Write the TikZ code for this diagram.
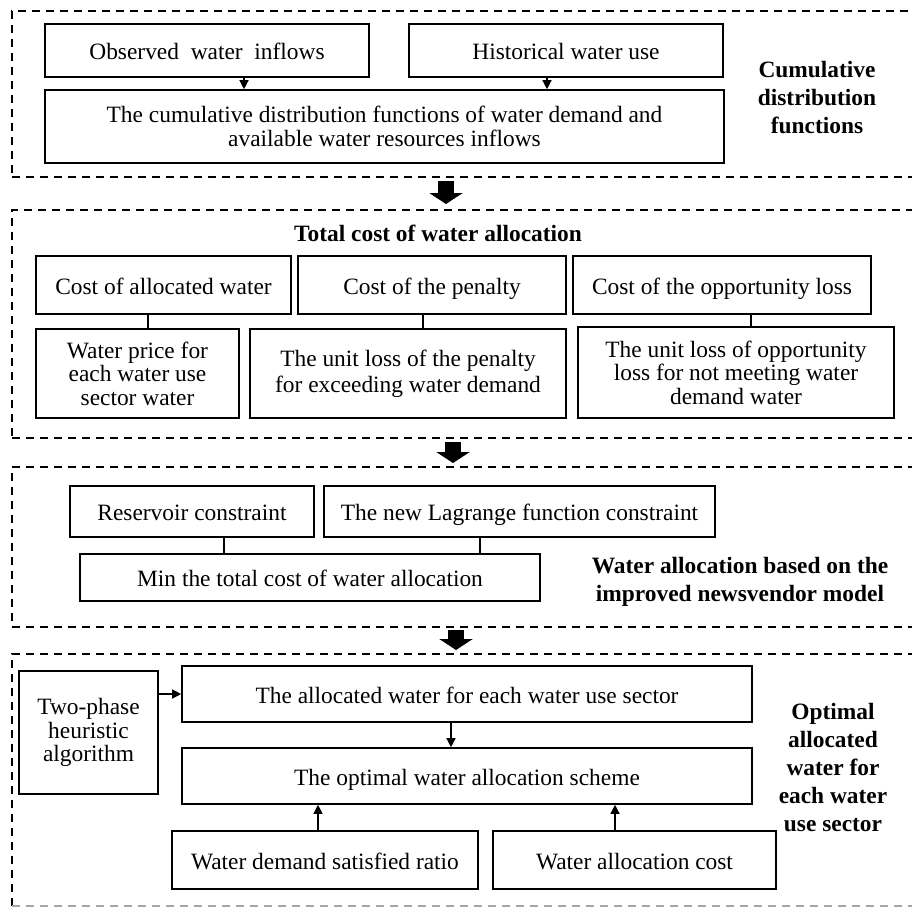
\documentclass[tikz,border=0pt]{standalone}
\usepackage{fontspec}
\setmainfont{Liberation Serif}
\usetikzlibrary{positioning, arrows.meta, calc}

\tikzstyle{whiteBox} = [
    rectangle,
    draw,
    line width=1.6pt,
    align=center,
    inner sep=0pt,
    font=\fontsize{23.4}{23.6}\selectfont
    ]
\tikzstyle{lineBox} = [
    whiteBox,
    text height=19pt,
    text depth=1pt
    ]
\tikzstyle{dashedGroup} = [
    rectangle,
    draw,
    dash pattern=on 8pt off 6pt,
    line width=1.3pt,
    anchor=north west,
    outer sep=0pt,
    minimum width=918pt
    ]
\tikzstyle{boldLabel} = [
    align=center,
    font=\fontsize{23.4}{28}\selectfont\bfseries
    ]
\tikzstyle{smallArrow} = [line width=1.3pt, -{Triangle[length=9pt,width=9pt]}]
\tikzstyle{plainLine} = [line width=1.6pt]
\tikzstyle{bigArrow} = [line width=16pt, -{Triangle[length=11pt,width=33pt]}]

\begin{document}
\begin{tikzpicture}[x=1pt, y=-1pt]
      \useasboundingbox (0,0) rectangle (912,908);
      \clip (0,0) rectangle (912,908);

      % dashed groups
      \node[dashedGroup, minimum height=166pt] (groupCdf) at (12,11) {};
      \node[dashedGroup, minimum height=228pt] (groupCost) at (12,210) {};
      \node[dashedGroup, minimum height=160pt] (groupModel) at (12,467) {};
      \node[dashedGroup, minimum height=252pt, draw=none] (groupOptimal) at (12,654) {};
      \draw[dashedGroup] (groupOptimal.south west) -- (groupOptimal.north west) -- (groupOptimal.north east);
      \draw[dashedGroup, draw=black!35] (groupOptimal.south west) -- (groupOptimal.south east);

      % cumulative distribution functions
      \node[lineBox, minimum width=324pt, minimum height=53pt] (obsInflow) at (207,50.5) {Observed\ \ water\ \ inflows};
      \node[lineBox, minimum width=314pt, minimum height=53pt] (histUse) at (566,50.5) {Historical water use};
      \node[whiteBox, minimum width=679pt, minimum height=73pt] (cdf) at (384.5,126.5) {The cumulative distribution functions of water demand and\\available water resources inflows};
      \node[boldLabel] (cdfLabel) at (817,98) {Cumulative\\distribution\\functions};

      \coordinate (obsFoot) at ($(obsInflow.south)+(37,0)$);
      \coordinate (histFoot) at ($(histUse.south)+(-19,0)$);
      \draw[smallArrow] (obsFoot) -- (obsFoot |- cdf.north);
      \draw[smallArrow] (histFoot) -- (histFoot |- cdf.north);

      % total cost
      \node[boldLabel] (costLabel) at (438,233) {Total cost of water allocation};
      \node[lineBox, minimum width=255pt, minimum height=58pt] (costAlloc) at (163.5,285) {Cost of allocated water};
      \node[lineBox, minimum width=268pt, minimum height=58pt] (costPenalty) at (432,285) {Cost of the penalty};
      \node[lineBox, minimum width=298pt, minimum height=58pt] (costOpp) at (722,285) {Cost of the opportunity loss};
      \node[whiteBox, minimum width=203pt, minimum height=89pt] (waterPrice) at (137.5,373.5) {Water price for\\each water use\\sector water};
      \node[whiteBox, minimum width=316pt, minimum height=89pt, font=\fontsize{23.4}{26}\selectfont] (unitPenalty) at (408,373.5) {The unit loss of the penalty\\for exceeding water demand};
      \node[whiteBox, minimum width=316pt, minimum height=91pt] (unitOpp) at (736,372.5) {The unit loss of opportunity\\loss for not meeting water\\demand water};

      \coordinate (allocFoot) at ($(costAlloc.south)+(-15.5,0)$);
      \coordinate (penaltyFoot) at ($(costPenalty.south)+(-9,0)$);
      \coordinate (oppFoot) at ($(costOpp.south)+(29,0)$);
      \draw[plainLine] (allocFoot) -- (allocFoot |- waterPrice.north);
      \draw[plainLine] (penaltyFoot) -- (penaltyFoot |- unitPenalty.north);
      \draw[plainLine] (oppFoot) -- (oppFoot |- unitOpp.north);

      % newsvendor model
      \node[lineBox, minimum width=244pt, minimum height=51pt] (reservoir) at (192,511.5) {Reservoir constraint};
      \node[lineBox, minimum width=391pt, minimum height=51pt] (lagrange) at (519.5,511.5) {The new Lagrange function constraint};
      \node[lineBox, minimum width=460pt, minimum height=47pt] (minCost) at (310,577.5) {Min the total cost of water allocation};
      \node[boldLabel] (modelLabel) at (740,582) {Water allocation based on the\\improved newsvendor model};

      \coordinate (resFoot) at ($(reservoir.south)+(32,0)$);
      \coordinate (lagFoot) at ($(lagrange.south)+(-39.5,0)$);
      \draw[plainLine] (resFoot) -- (resFoot |- minCost.north);
      \draw[plainLine] (lagFoot) -- (lagFoot |- minCost.north);

      % optimal allocation
      \node[whiteBox, minimum width=139pt, minimum height=123pt] (twoPhase) at (88.5,732.5) {Two-phase\\heuristic\\algorithm};
      \node[lineBox, minimum width=570pt, minimum height=56pt] (allocWater) at (467,694) {The allocated water for each water use sector};
      \node[lineBox, minimum width=570pt, minimum height=56pt] (optScheme) at (467,776) {The optimal water allocation scheme};
      \node[lineBox, minimum width=306pt, minimum height=58pt] (satRatio) at (325,860) {Water demand satisfied ratio};
      \node[lineBox, minimum width=283pt, minimum height=58pt] (allocCost) at (634.5,860) {Water allocation cost};
      \node[boldLabel] (optLabel) at (833,768) {Optimal\\allocated\\water for\\each water\\use sector};

      \coordinate (waterFoot) at ($(allocWater.south)+(-16,0)$);
      \coordinate (ratioHead) at ($(satRatio.north)+(-7,0)$);
      \coordinate (costHead) at ($(allocCost.north)+(-19.5,0)$);
      \draw[smallArrow] (twoPhase.east |- allocWater.west) -- (allocWater.west);
      \draw[smallArrow] (waterFoot) -- (waterFoot |- optScheme.north);
      \draw[smallArrow] (ratioHead) -- (ratioHead |- optScheme.south);
      \draw[smallArrow] (costHead) -- (costHead |- optScheme.south);

      % arrows between groups
      \draw[bigArrow] ($(groupCdf.south)+(-25,4)$) -- ($(groupCost.north)+(-25,-6)$);
      \draw[bigArrow] ($(groupCost.south)+(-18,4)$) -- ($(groupModel.north)+(-18,-4)$);
      \draw[bigArrow] ($(groupModel.south)+(-15,3)$) -- ($(groupOptimal.north)+(-15,-4)$);
    \end{tikzpicture}
\end{document}
